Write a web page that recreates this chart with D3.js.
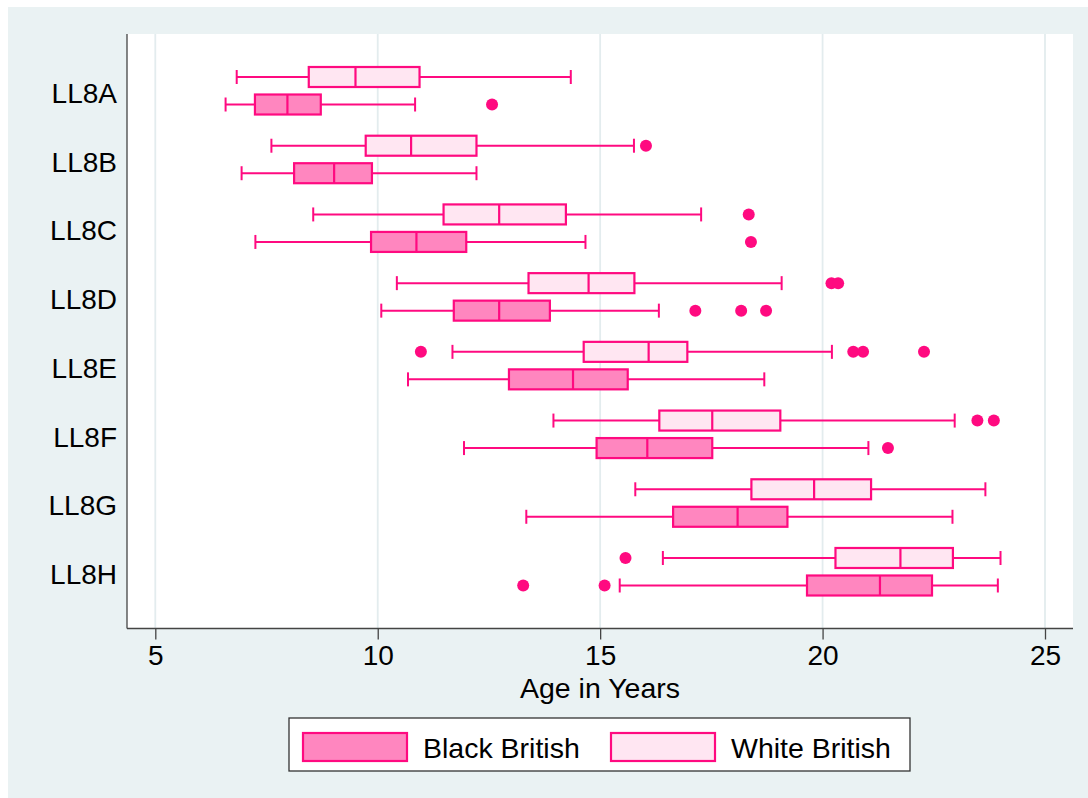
<!DOCTYPE html>
<html>
<head>
<meta charset="utf-8">
<script src="https://cdn.jsdelivr.net/npm/d3@7"></script>
<style>
  html, body { margin: 0; padding: 0; background: #ffffff; }
  svg { display: block; }
  text { font-family: "Liberation Sans", Arial, sans-serif; fill: #000; }
</style>
</head>
<body>
<svg id="chart" width="1088" height="798"></svg>
<script>
// Reading-level categories (top to bottom)
const categories = ["LL8A", "LL8B", "LL8C", "LL8D", "LL8E", "LL8F", "LL8G", "LL8H"];
const seriesNames = ["Black British", "White British"];
const xTicks = [5, 10, 15, 20, 25];

// Box statistics per category: [lower whisker, Q1, median, Q3, upper whisker]
const blackBoxes = [
  [6.58, 7.24, 7.97, 8.72, 10.84],
  [6.94, 8.12, 9.02, 9.87, 12.22],
  [7.25, 9.85, 10.87, 11.99, 14.67],
  [10.08, 11.71, 12.73, 13.87, 16.32],
  [10.68, 12.95, 14.39, 15.62, 18.69],
  [11.94, 14.92, 16.06, 17.52, 21.03],
  [13.34, 16.64, 18.09, 19.21, 22.92],
  [15.44, 19.65, 21.29, 22.46, 23.94]
];
const whiteBoxes = [
  [6.83, 8.45, 9.50, 10.94, 14.34],
  [7.61, 9.73, 10.75, 12.22, 15.76],
  [8.55, 11.48, 12.73, 14.23, 17.27],
  [10.43, 13.39, 14.74, 15.77, 19.08],
  [11.68, 14.63, 16.09, 16.96, 20.21],
  [13.95, 16.33, 17.52, 19.05, 22.97],
  [15.79, 18.40, 19.81, 21.09, 23.66],
  [16.41, 20.29, 21.75, 22.93, 24.00]
];

// Outside values per category
const blackOutliers = [
  [12.57],
  [],
  [18.39],
  [17.14, 18.17, 18.73],
  [],
  [21.47],
  [],
  [13.27, 15.10]
];
const whiteOutliers = [
  [],
  [16.03],
  [18.34],
  [20.20, 20.35],
  [10.97, 20.69, 20.91, 22.28],
  [23.48, 23.85],
  [],
  [15.57]
];

const stroke = "#ff0a80";
const fills = { "Black British": "#ff86bf", "White British": "#ffe6f2" };
const bgColor = "#eaf2f3";
const fontSize = "28px";

const svg = d3.select("#chart");

// Graph region background
svg.append("rect")
  .attr("x", 8).attr("y", 7)
  .attr("width", 1080).attr("height", 791)
  .attr("fill", bgColor);

// Plot region
const plot = { left: 127, right: 1073, top: 34, bottom: 628.5 };
svg.append("rect")
  .attr("x", plot.left).attr("y", plot.top)
  .attr("width", plot.right - plot.left).attr("height", plot.bottom - plot.top)
  .attr("fill", "#ffffff");

const x = d3.scaleLinear().domain([5, 25]).range([155.3, 1045]);
const y = d3.scalePoint().domain(categories).range([plot.top, plot.bottom]).padding(0.826);
const sub = d3.scalePoint().domain(["White British", "Black British"]).range([-13.75, 13.75]);

// Vertical grid lines
svg.append("g").selectAll("line").data(xTicks).join("line")
  .attr("x1", d => x(d)).attr("x2", d => x(d))
  .attr("y1", plot.top).attr("y2", plot.bottom)
  .attr("stroke", "#e3ecee").attr("stroke-width", 1.8);

// Axes
const xAxis = d3.axisBottom(x).tickValues(xTicks).tickSize(11).tickPadding(6).tickFormat(d3.format("d"));
const gx = svg.append("g").attr("transform", `translate(0,${plot.bottom})`).call(xAxis);
gx.select(".domain").remove();
gx.selectAll(".tick line").attr("stroke", "#444").attr("stroke-width", 1.3);
gx.selectAll(".tick text")
  .style("font-size", fontSize)
  .style("font-family", "'Liberation Sans', Arial, sans-serif")
  .attr("fill", "#000");
gx.append("line")
  .attr("x1", plot.left).attr("x2", plot.right)
  .attr("y1", 0).attr("y2", 0)
  .attr("stroke", "#444").attr("stroke-width", 1.3);

const yAxis = d3.axisLeft(y).tickSize(0).tickPadding(10);
const gy = svg.append("g").attr("transform", `translate(${plot.left},0)`).call(yAxis);
gy.select(".domain").remove();
gy.selectAll(".tick text")
  .style("font-size", fontSize)
  .style("font-family", "'Liberation Sans', Arial, sans-serif")
  .attr("fill", "#000")
  .attr("dy", "0.42em");
gy.append("line")
  .attr("x1", 0).attr("x2", 0)
  .attr("y1", plot.top).attr("y2", plot.bottom)
  .attr("stroke", "#444").attr("stroke-width", 1.3);

// Axis title
svg.append("text")
  .attr("x", (plot.left + plot.right) / 2).attr("y", 698)
  .attr("text-anchor", "middle")
  .style("font-size", "28.5px")
  .text("Age in Years");

// Assemble records for drawing
const records = [];
categories.forEach((c, i) => {
  records.push({ cat: c, series: "White British", s: whiteBoxes[i], out: whiteOutliers[i] });
  records.push({ cat: c, series: "Black British", s: blackBoxes[i], out: blackOutliers[i] });
});

const boxH = 20, capH = 14;
const g = svg.append("g");
const box = g.selectAll("g.box").data(records).join("g")
  .attr("class", "box")
  .attr("transform", d => `translate(0,${y(d.cat) + sub(d.series)})`);

// Whiskers
box.append("line")
  .attr("x1", d => x(d.s[0])).attr("x2", d => x(d.s[1]))
  .attr("stroke", stroke).attr("stroke-width", 2);
box.append("line")
  .attr("x1", d => x(d.s[3])).attr("x2", d => x(d.s[4]))
  .attr("stroke", stroke).attr("stroke-width", 2);
// Whisker caps
box.append("line")
  .attr("x1", d => x(d.s[0])).attr("x2", d => x(d.s[0]))
  .attr("y1", -capH / 2).attr("y2", capH / 2)
  .attr("stroke", stroke).attr("stroke-width", 2);
box.append("line")
  .attr("x1", d => x(d.s[4])).attr("x2", d => x(d.s[4]))
  .attr("y1", -capH / 2).attr("y2", capH / 2)
  .attr("stroke", stroke).attr("stroke-width", 2);
// Interquartile box
box.append("rect")
  .attr("x", d => x(d.s[1])).attr("width", d => x(d.s[3]) - x(d.s[1]))
  .attr("y", -boxH / 2).attr("height", boxH)
  .attr("fill", d => fills[d.series])
  .attr("stroke", stroke).attr("stroke-width", 2.2);
// Median
box.append("line")
  .attr("x1", d => x(d.s[2])).attr("x2", d => x(d.s[2]))
  .attr("y1", -boxH / 2).attr("y2", boxH / 2)
  .attr("stroke", stroke).attr("stroke-width", 2.2);
// Outside values
box.selectAll("circle").data(d => d.out).join("circle")
  .attr("cx", d => x(d)).attr("cy", 0).attr("r", 6)
  .attr("fill", stroke);

// Legend
const legend = svg.append("g");
legend.append("rect")
  .attr("x", 289).attr("y", 718).attr("width", 621).attr("height", 53)
  .attr("fill", "#ffffff").attr("stroke", "#333").attr("stroke-width", 1.3);
const legendX = d3.scaleOrdinal().domain(seriesNames).range([303, 611]);
const item = legend.selectAll("g.item").data(seriesNames).join("g")
  .attr("class", "item")
  .attr("transform", d => `translate(${legendX(d)},733)`);
item.append("rect")
  .attr("width", 104).attr("height", 28)
  .attr("fill", d => fills[d])
  .attr("stroke", stroke).attr("stroke-width", 2.2);
item.append("text")
  .attr("x", 120).attr("y", 24.5)
  .style("font-size", "28.5px")
  .text(d => d);
</script>
</body>
</html>
